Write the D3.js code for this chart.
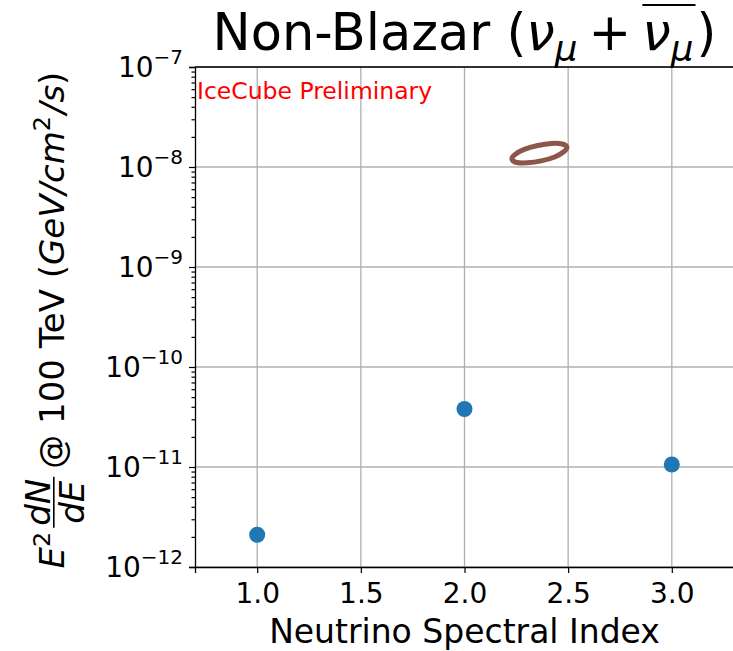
<!DOCTYPE html>
<html>
<head>
<meta charset="utf-8">
<script src="https://cdn.jsdelivr.net/npm/d3@7"></script>
<style>
  body { margin: 0; background: #fff; }
  text { font-family: "DejaVu Sans", sans-serif; }
</style>
</head>
<body>
<svg id="chart" width="733" height="651"></svg>
<script>
// best-fit flux for each fixed spectral index
var indexValues = [1.0, 2.0, 3.0];
var fluxValues = [2.1e-12, 3.8e-11, 1.06e-11];

// contour of the free fit (index, flux)
var contourIndex = [2.494, 2.479, 2.435, 2.370, 2.303, 2.252, 2.229, 2.243, 2.288, 2.353, 2.420, 2.471];
var contourFlux = [1.58e-8, 1.42e-8, 1.26e-8, 1.15e-8, 1.10e-8, 1.11e-8, 1.20e-8, 1.33e-8, 1.50e-8, 1.64e-8, 1.72e-8, 1.70e-8];

var xTicks = [1.0, 1.5, 2.0, 2.5, 3.0];
var yTickExps = [-12, -11, -10, -9, -8, -7];

var margin = { top: 67, right: -1, bottom: 84, left: 195 };
var width = 733 - margin.left - margin.right;
var height = 651 - margin.top - margin.bottom;

var svg = d3.select("#chart");
var g = svg.append("g")
  .attr("transform", "translate(" + margin.left + "," + margin.top + ")");

var x = d3.scaleLinear().domain([0.7, 3.3]).range([0, width]);
var y = d3.scaleLog().domain([1e-12, 1e-7]).range([height, 0]);

var majorY = yTickExps.map(function (e) { return Math.pow(10, e); });
var minorY = [];
yTickExps.slice(0, -1).forEach(function (e) {
  for (var k = 2; k < 10; k++) minorY.push(k * Math.pow(10, e));
});

// grid
g.append("g").selectAll("line").data(xTicks).enter().append("line")
  .attr("x1", function (d) { return x(d); }).attr("x2", function (d) { return x(d); })
  .attr("y1", 0).attr("y2", height)
  .attr("stroke", "#b0b0b0").attr("stroke-width", 1.3);
g.append("g").selectAll("line").data(majorY).enter().append("line")
  .attr("y1", function (d) { return y(d); }).attr("y2", function (d) { return y(d); })
  .attr("x1", 0).attr("x2", width)
  .attr("stroke", "#b0b0b0").attr("stroke-width", 1.3);

// axes
var xAx = g.append("g")
  .attr("transform", "translate(0," + height + ")")
  .call(d3.axisBottom(x).tickValues(xTicks).tickSize(6).tickFormat(""));
g.append("g")
  .call(d3.axisLeft(y).tickValues(majorY).tickSize(6).tickFormat(""));
g.append("g")
  .call(d3.axisLeft(y).tickValues(minorY).tickSize(3.5).tickFormat(""))
  .select(".domain").remove();
g.selectAll(".domain").attr("stroke", "#000").attr("stroke-width", 1.3);
g.selectAll(".tick line").attr("stroke", "#000").attr("stroke-width", 1.2);
g.append("line").attr("x1", 0).attr("x2", width).attr("y1", 0).attr("y2", 0)
  .attr("stroke", "#000").attr("stroke-width", 1.3);

// x tick labels
xAx.selectAll(".tick").append("text")
  .attr("y", 36).attr("text-anchor", "middle")
  .attr("fill", "#000").style("font-size", "28px")
  .text(function (d) { return d.toFixed(1); });

// y tick labels 10^e
yTickExps.forEach(function (e) {
  var t = g.append("text")
    .attr("x", -12).attr("y", y(Math.pow(10, e)) + 10)
    .attr("text-anchor", "end").style("font-size", "28px");
  t.append("tspan").text("10");
  t.append("tspan").attr("dy", -13).style("font-size", "20px").text("\u2212" + (-e));
});

// points
g.append("g").selectAll("circle").data(indexValues).enter().append("circle")
  .attr("cx", function (d) { return x(d); })
  .attr("cy", function (d, i) { return y(fluxValues[i]); })
  .attr("r", 8)
  .attr("fill", "#1f77b4");

// contour
var contour = contourIndex.map(function (d, i) { return [d, contourFlux[i]]; });
g.append("path")
  .datum(contour)
  .attr("d", d3.line()
    .x(function (d) { return x(d[0]); })
    .y(function (d) { return y(d[1]); })
    .curve(d3.curveCardinalClosed))
  .attr("fill", "none")
  .attr("stroke", "#8c564b")
  .attr("stroke-width", 5);

// text in the plot
g.append("text")
  .attr("x", 2).attr("y", 32)
  .attr("fill", "red").style("font-size", "23.5px")
  .text("IceCube Preliminary");

// helper: lay pieces out along a baseline, returns the total width
function rich(parent, pieces) {
  var cur = 0;
  pieces.forEach(function (p) {
    if (p.frac) {
      var s = p.size;
      var n = parent.append("text").style("font-size", s + "px").style("font-style", "italic")
        .attr("text-anchor", "middle").attr("y", -0.4 * s).text(p.frac[0]);
      var dd = parent.append("text").style("font-size", s + "px").style("font-style", "italic")
        .attr("text-anchor", "middle").attr("y", 0.58 * s).text(p.frac[1]);
      var w = Math.max(n.node().getComputedTextLength(), dd.node().getComputedTextLength()) + 4;
      n.attr("x", cur + w / 2);
      dd.attr("x", cur + w / 2);
      parent.append("line").attr("x1", cur).attr("x2", cur + w)
        .attr("y1", -0.3 * s).attr("y2", -0.3 * s)
        .attr("stroke", "#000").attr("stroke-width", 1.6);
      cur += w + (p.gap || 0);
      return;
    }
    var t = parent.append("text")
      .attr("x", cur).attr("y", -(p.shift || 0))
      .style("font-size", p.size + "px")
      .style("font-style", p.italic ? "italic" : "normal")
      .text(p.text);
    var tw = t.node().getComputedTextLength();
    p.x0 = cur; p.x1 = cur + tw;
    cur += tw + (p.gap || 0);
  });
  return cur;
}

// title
var TS = 51;
var title = svg.append("g");
var titleInner = title.append("g");
var tp = [
  { text: "Non-Blazar (", size: TS },
  { text: "\u03bd", size: TS, italic: true },
  { text: "\u03bc", size: TS * 0.7, italic: true, shift: -0.22 * TS, gap: 11 },
  { text: "+", size: TS, gap: 11 },
  { text: "\u03bd", size: TS, italic: true },
  { text: "\u03bc", size: TS * 0.7, italic: true, shift: -0.22 * TS, gap: 3 },
  { text: ")", size: TS }
];
var tw = rich(titleInner, tp);
titleInner.append("line")
  .attr("x1", tp[4].x0).attr("x2", tp[5].x1 + 2)
  .attr("y1", -0.88 * TS).attr("y2", -0.88 * TS)
  .attr("stroke", "#000").attr("stroke-width", 2);
title.attr("transform", "translate(" + (margin.left + width / 2 - tw / 2) + ",50)");

// x label
svg.append("text")
  .attr("x", margin.left + width / 2).attr("y", 643)
  .attr("text-anchor", "middle").style("font-size", "33px")
  .text("Neutrino Spectral Index");

// y label
var LS = 34;
var ylab = svg.append("g");
var ylabInner = ylab.append("g");
var lp = [
  { text: "E", size: LS, italic: true },
  { text: "2", size: LS * 0.7, shift: 0.42 * LS, gap: 4 },
  { frac: ["dN", "dE"], size: LS, gap: 8 },
  { text: " @ 100 TeV (", size: LS },
  { text: "GeV/cm", size: LS, italic: true },
  { text: "2", size: LS * 0.7, shift: 0.42 * LS, gap: 2 },
  { text: "/s", size: LS, italic: true },
  { text: ")", size: LS }
];
var lw = rich(ylabInner, lp);
ylab.attr("transform", "translate(64," + (320 + lw / 2) + ") rotate(-90)");
</script>
</body>
</html>
